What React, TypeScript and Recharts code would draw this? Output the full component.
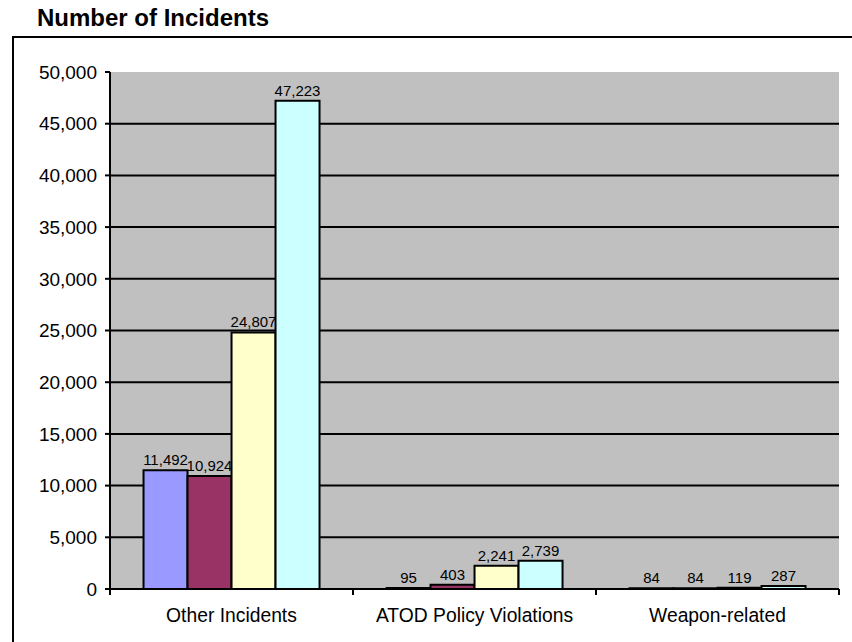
import React from 'react';
import { Bar, BarChart, CartesianGrid, LabelList, XAxis, YAxis } from 'recharts';

const categories = ['Other Incidents', 'ATOD Policy Violations', 'Weapon-related'];
const series1 = [11492, 95, 84];
const series2 = [10924, 403, 84];
const series3 = [24807, 2241, 119];
const series4 = [47223, 2739, 287];
const yTicks = [0, 5000, 10000, 15000, 20000, 25000, 30000, 35000, 40000, 45000, 50000];

const data = categories.map((name, i) => ({
  name,
  s1: series1[i],
  s2: series2[i],
  s3: series3[i],
  s4: series4[i],
}));

const FONT = '"Liberation Sans", Arial, sans-serif';
const fmt = (v: number) => Number(v).toLocaleString('en-US');

const TICK_SIZE = 6;
const TICK_MARGIN = 13;

// category labels with tick marks on the band edges
function CategoryTick(props: any) {
  const { x, y, payload, index, width } = props;
  const half = width / categories.length / 2;
  const axisY = y - TICK_SIZE - TICK_MARGIN;
  return (
    <g>
      <line x1={x - half} x2={x - half} y1={axisY} y2={axisY + TICK_SIZE} stroke="#000" strokeWidth={2} />
      {index === categories.length - 1 && (
        <line x1={x + half} x2={x + half} y1={axisY} y2={axisY + TICK_SIZE} stroke="#000" strokeWidth={2} />
      )}
      <text x={x} y={y} dy="0.71em" textAnchor="middle" fill="#000" fontSize={19.3} fontFamily={FONT}>
        {payload.value}
      </text>
    </g>
  );
}

const barColors = ['#9999FF', '#993366', '#FFFFCC', '#CCFFFF'];
const keys = ['s1', 's2', 's3', 's4'];

export default function App() {
  return (
    <div
      style={{
        position: 'absolute',
        left: 0,
        top: 0,
        width: 852,
        height: 642,
        background: '#fff',
        overflow: 'hidden',
        fontFamily: FONT,
      }}
    >
      <div
        style={{
          position: 'absolute',
          left: 37,
          top: 6,
          fontSize: 24,
          lineHeight: '24px',
          fontWeight: 'bold',
          color: '#000',
          whiteSpace: 'nowrap',
        }}
      >
        Number of Incidents
      </div>
      <div
        style={{
          position: 'absolute',
          left: 12,
          top: 36,
          width: 900,
          height: 700,
          border: '2px solid #000',
        }}
      />
      <div style={{ position: 'absolute', left: 0, top: 0 }}>
        <BarChart
          width={852}
          height={642}
          data={data}
          margin={{ top: 72, right: 13, bottom: 0, left: 10 }}
          barCategoryGap="13.8%"
          barGap={0}
        >
          <CartesianGrid
            vertical={false}
            fill="#C0C0C0"
            fillOpacity={1}
            stroke="#000"
            strokeWidth={2}
            horizontalValues={yTicks.slice(1, -1)}
          />
          <XAxis
            dataKey="name"
            axisLine={{ stroke: '#000', strokeWidth: 2 }}
            tickLine={false}
            tickSize={TICK_SIZE}
            tickMargin={TICK_MARGIN}
            tick={<CategoryTick />}
            interval={0}
            height={53}
          />
          <XAxis
            xAxisId="top"
            dataKey="name"
            orientation="top"
            height={0}
            tick={false}
            tickLine={false}
            axisLine={{ stroke: '#808080', strokeWidth: 2 }}
          />
          <YAxis
            width={100}
            domain={[0, 50000]}
            ticks={yTicks}
            interval={0}
            tickFormatter={fmt}
            tickSize={5}
            tickMargin={8}
            axisLine={{ stroke: '#000', strokeWidth: 2 }}
            tickLine={{ stroke: '#000', strokeWidth: 2 }}
            tick={{ fill: '#000', fontSize: 19, fontFamily: FONT }}
          />
          <YAxis
            yAxisId="right"
            orientation="right"
            width={0}
            domain={[0, 50000]}
            tick={false}
            tickLine={false}
            axisLine={{ stroke: '#808080', strokeWidth: 2 }}
          />
          {keys.map((k, i) => (
            <Bar key={k} dataKey={k} fill={barColors[i]} stroke="#000" strokeWidth={2} isAnimationActive={false}>
              <LabelList
                dataKey={k}
                position="top"
                offset={5}
                formatter={(v: any) => fmt(v)}
                fill="#000"
                fontSize={15}
                fontFamily={FONT}
              />
            </Bar>
          ))}
        </BarChart>
      </div>
    </div>
  );
}
